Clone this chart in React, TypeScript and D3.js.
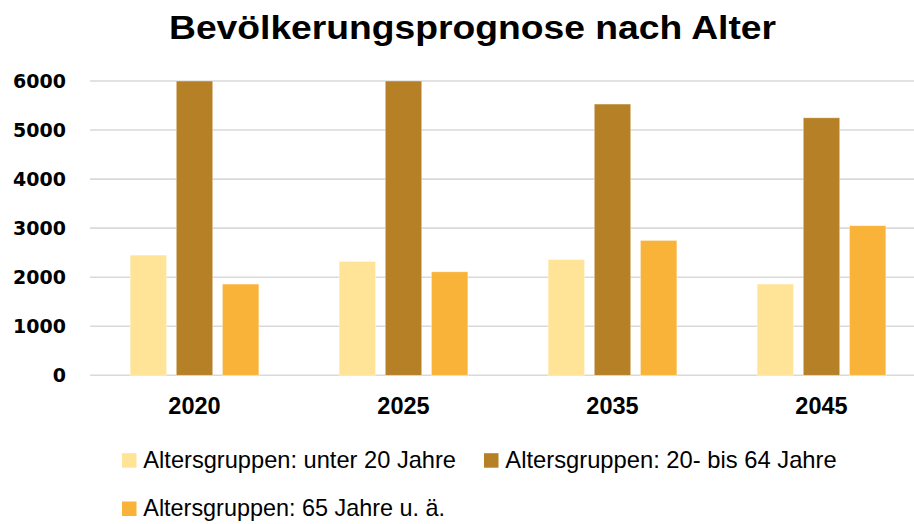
import React from 'react';
import * as d3 from 'd3';

const years = ['2020', '2025', '2035', '2045'];
const seriesNames = [
  'Altersgruppen: unter 20 Jahre',
  'Altersgruppen: 20- bis 64 Jahre',
  'Altersgruppen: 65 Jahre u. ä.',
];
const under20 = [2450, 2320, 2360, 1860];
const age20to64 = [6000, 6000, 5530, 5250];
const over65 = [1860, 2110, 2750, 3050];
const yTicks = [0, 1000, 2000, 3000, 4000, 5000, 6000];
const colors = ['#FFE396', '#B58026', '#F9B339'];

const width = 914;
const height = 524;
const margin = { top: 81, left: 90, bottom: 375.3 };
const plotRight = 926; // the plot runs past the picture edge

const App = () => {
  const values = [under20, age20to64, over65];
  const rows = years.map((year, i) => ({ year, vals: values.map(v => v[i]) }));

  const x0 = d3.scaleBand<string>()
    .domain(years)
    .range([margin.left, plotRight])
    .paddingInner(0.384)
    .paddingOuter(0.192);

  const x1 = d3.scaleBand<number>()
    .domain([0, 1, 2])
    .range([0, x0.bandwidth()])
    .paddingInner(0.21);

  const y = d3.scaleLinear()
    .domain([0, 6000])
    .range([margin.bottom, margin.top]);

  // legend layout (swatch x, baseline y, text x, text width)
  const legendItems = [
    { x: 122, y: 467.7, tx: 143.3, len: 312.7 },
    { x: 484, y: 467.7, tx: 505.3, len: 331.4 },
    { x: 122, y: 516, tx: 143.3, len: 301.7 },
  ];

  return (
    <svg
      width={width}
      height={height}
      style={{ display: 'block', background: '#fff', position: 'absolute', left: 0, top: 0 }}
    >
      <text
        x={472.5}
        y={39.3}
        textAnchor="middle"
        textLength={607}
        lengthAdjust="spacingAndGlyphs"
        style={{ fontFamily: 'Liberation Sans, Arial, sans-serif', fontWeight: 'bold', fontSize: 34 }}
      >
        Bevölkerungsprognose nach Alter
      </text>

      {/* gridlines */}
      {yTicks.map(t => (
        <line key={t} x1={margin.left} x2={plotRight} y1={y(t)} y2={y(t)} stroke="#D9D9D9" strokeWidth={1.6} />
      ))}

      {/* y tick labels */}
      {yTicks.map(t => (
        <text
          key={'l' + t}
          x={66}
          y={y(t)}
          dy="0.36em"
          textAnchor="end"
          style={{ fontFamily: 'DejaVu Sans, sans-serif', fontWeight: 'bold', fontSize: 19 }}
        >
          {t}
        </text>
      ))}

      {/* bars */}
      {rows.map(r => (
        <g key={r.year} transform={`translate(${x0(r.year)},0)`}>
          {r.vals.map((v, j) => (
            <rect
              key={j}
              x={x1(j)}
              y={y(v)}
              width={x1.bandwidth()}
              height={y(0) - y(v)}
              fill={colors[j]}
              stroke="#fff"
              strokeOpacity={0.5}
              strokeWidth={0.75}
            />
          ))}
        </g>
      ))}

      {/* x labels */}
      {years.map(yr => (
        <text
          key={yr}
          x={(x0(yr) as number) + x0.bandwidth() / 2}
          y={414}
          textAnchor="middle"
          style={{ fontFamily: 'Liberation Sans, Arial, sans-serif', fontWeight: 'bold', fontSize: 23.5 }}
        >
          {yr}
        </text>
      ))}

      {/* legend */}
      {seriesNames.map((name, i) => {
        const it = legendItems[i];
        return (
          <g key={name}>
            <rect x={it.x} y={it.y - 14.5} width={14.5} height={14.5} fill={colors[i]} />
            <text
              x={it.tx}
              y={it.y}
              textLength={it.len}
              lengthAdjust="spacingAndGlyphs"
              style={{ fontFamily: 'Liberation Sans, Arial, sans-serif', fontSize: 24 }}
            >
              {name}
            </text>
          </g>
        );
      })}
    </svg>
  );
};

export default App;
